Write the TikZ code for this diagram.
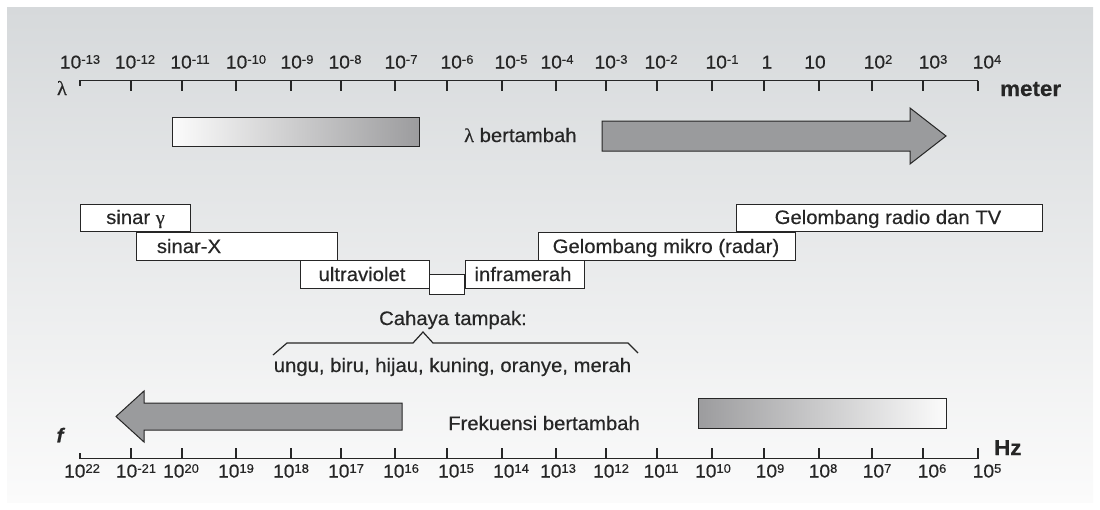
\documentclass[tikz,border=0pt]{standalone}
\usepackage{fontspec}
\setmainfont{Liberation Sans}[FakeStretch=1.04,FakeBold=0.4]
\newfontfamily\serifgr{Liberation Serif}[FakeStretch=1.04,FakeBold=0.4]
\usetikzlibrary{calc}
\definecolor{ink}{HTML}{262626}
\definecolor{arrowgray}{HTML}{9A9B9D}
\definecolor{gradgray}{HTML}{9C9C9E}
\definecolor{bgtop}{HTML}{D6D9DB}
\definecolor{bgmid}{HTML}{E5E7E8}
\definecolor{bgbot}{HTML}{FBFBFB}
\newcommand\tp[1]{10\raisebox{4.7pt}{\fontsize{12.5}{12}\selectfont #1}}
\begin{document}
\begin{tikzpicture}[x=1pt,y=-1pt,
  band/.style={draw=ink, line width=1.3pt, fill=white, anchor=north west, inner sep=0pt},
  bandtxt/.style={text=ink, font=\fontsize{19.5}{21}\selectfont, inner sep=0pt, anchor=base},
  axlbl/.style={text=ink, font=\fontsize{18.5}{19}\selectfont, inner sep=0pt, anchor=base},
  unitlbl/.style={text=ink, font=\fontsize{21.5}{22}\selectfont\bfseries, inner sep=0pt, anchor=base west},
  axisline/.style={draw=ink, line width=1.2pt},
  bigarrow/.style={draw=ink, line width=1pt, fill=arrowgray, line join=miter},
  gradbox/.style={draw=ink, line width=1.2pt, anchor=north west, inner sep=0pt},
  bracket/.style={draw=ink, line width=1.2pt}
  ]
\useasboundingbox (0,0) rectangle (1100,509);
\shade[top color=bgtop, middle color=bgmid, bottom color=bgbot] (7,7) rectangle (1093,502);

% ---- top wavelength axis ----
\coordinate (tl) at (80,80.5);
\coordinate (tr) at (978,80.5);
\draw[axisline] ($(tl)+(0,5.5)$) -- (tl) -- (tr);
\foreach \x in {131,182,236,291,341,395,447,502,556,606,657,712,764,819,872,923,978}
  \draw[axisline] (\x,80.5) -- (\x,91);
\foreach \x/\e in {80/-13,135/-12,190/-11,246/-10,297/-9,345/-8,401/-7,457/-6,511/-5,557/-4,611/-3,661/-2,722/-1,878/2,933/3,987/4}
  \node[axlbl] (wl\x) at (\x,68.5) {\tp{\e}};
\node[axlbl] (wl1) at (767,68.5) {1};
\node[axlbl] (wl10) at (815,68.5) {10};
\node[text=ink, inner sep=0pt, font=\serifgr\fontsize{20}{20}\selectfont] (lam) at (62,88) {λ};
\node[unitlbl] (meter) at (1000,96) {meter};

% ---- wavelength increases ----
\node[gradbox, left color=white!97!gray, right color=gradgray, minimum width=247pt, minimum height=29pt] (lamgrad) at (172,117) {};
\node[text=ink, inner sep=0pt, anchor=base west, font=\fontsize{19.5}{21}\selectfont] (lamtxt) at (464,142) {{\serifgr λ} bertambah};
\draw[bigarrow] (602,121) -- (910,121) -- (910,108) -- (946,136) -- (910,164) -- (910,151) -- (602,151) -- cycle;

% ---- spectrum bands ----
\node[band, minimum width=110pt, minimum height=27pt] (gamma) at (80,204) {};
\node[band, minimum width=201pt, minimum height=28pt] (xray) at (136,232) {};
\node[band, minimum width=129pt, minimum height=28pt] (uv) at (300,260) {};
\node[band, minimum width=35pt, minimum height=20pt] (vis) at (429,274) {};
\node[band, minimum width=119pt, minimum height=28pt] (ir) at (465,260) {};
\node[band, minimum width=257pt, minimum height=28pt] (micro) at (538,232) {};
\node[band, minimum width=306pt, minimum height=27pt] (radio) at (736,204) {};

\node[bandtxt] (gammaT) at (135.5,224) {sinar {\serifgr γ}};
\node[bandtxt] (xrayT) at (189,253) {sinar-X};
\node[bandtxt] (uvT) at (362,281) {ultraviolet};
\node[bandtxt] (irT) at (523,281) {inframerah};
\node[bandtxt] (microT) at (666,253) {Gelombang mikro (radar)};
\node[bandtxt] (radioT) at (888,224) {Gelombang radio dan TV};

% ---- visible light ----
\node[bandtxt] (vistitle) at (453,325) {Cahaya tampak:};
\draw[bracket] (273,355) -- (287,343) -- (413,343) -- (423,332) -- (433,343) -- (628,343) -- (638,353);
\node[bandtxt] (vislist) at (452.5,372) {ungu, biru, hijau, kuning, oranye, merah};

% ---- frequency increases ----
\draw[bigarrow] (402,403) -- (144,403) -- (144,391) -- (116,416.5) -- (144,442) -- (144,430) -- (402,430) -- cycle;
\node[text=ink, inner sep=0pt, anchor=base west, font=\fontsize{19.5}{21}\selectfont] (ftxt) at (448,430) {Frekuensi bertambah};
\node[gradbox, left color=gradgray, right color=white!97!gray, minimum width=248pt, minimum height=30pt] (fgrad) at (698,398) {};

% ---- bottom frequency axis ----
\coordinate (bl) at (80,458.5);
\coordinate (br) at (978,458.5);
\draw[axisline] ($(bl)+(0,-5.5)$) -- (bl) -- (br);
\foreach \x in {131,182,236,291,341,395,447,502,556,606,657,712,764,819,872,923,978}
  \draw[axisline] (\x,458.5) -- (\x,448);
\foreach \x/\e in {82/22,136/-21,181/20,236/19,291/18,346/17,401/16,456/15,511/14,558/13,611/12,661/11,713/10,770/9,823/8,877/7,932/6,987/5}
  \node[axlbl] (fl\x) at (\x,477.5) {\tp{\e}};
\node[text=ink, inner sep=0pt, font=\fontsize{20}{20}\selectfont\bfseries\itshape] (flab) at (60,435) {f};
\node[unitlbl] (hz) at (994,455) {Hz};
\end{tikzpicture}
\end{document}
